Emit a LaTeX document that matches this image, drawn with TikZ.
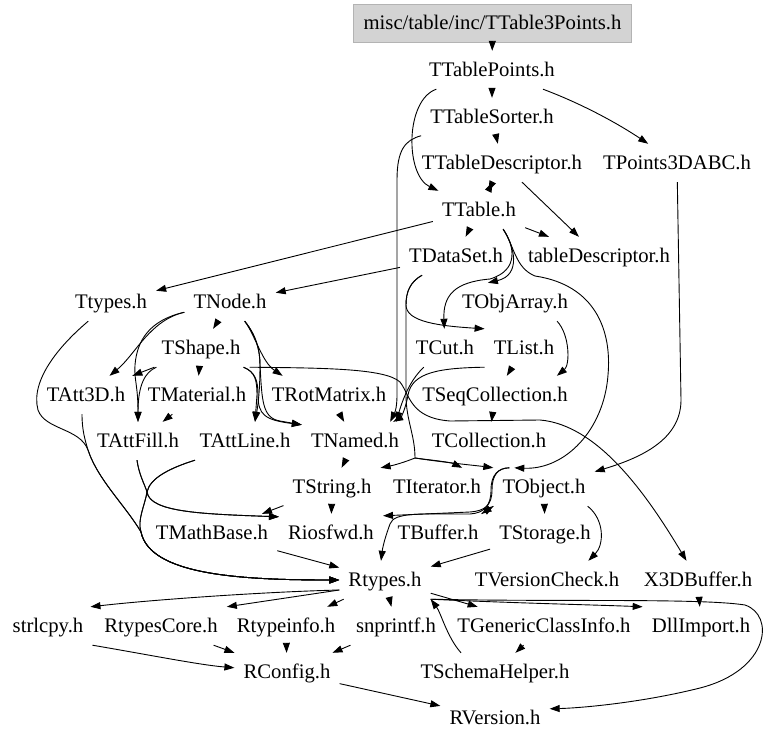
\documentclass[tikz,border=0pt]{standalone}
\usepackage{fontspec}
\setmainfont{Liberation Serif}
\usetikzlibrary{arrows.meta}
\definecolor{rootgray}{HTML}{D3D3D3}

\begin{document}
\begin{tikzpicture}[x=1pt,y=-1pt,
  every node/.style={inner xsep=9pt, inner ysep=0pt, minimum height=38pt,
    text height=16pt, text depth=2.6pt, font=\fontsize{20.7}{24}\selectfont},
  rootbox/.style={fill=rootgray, draw=rootgray!85!black, line width=0.6pt, inner xsep=10pt},
  dep/.style={-{Triangle[length=10pt,width=7pt]}, line width=0.9pt},
  trunk/.style={line width=0.9pt}]
\useasboundingbox (0,0) rectangle (768,746);

\node[rootbox] (root) at (492.5,23) {misc/table/inc/TTable3Points.h};
\node (tpoints) at (492,70) {TTablePoints.h};
\node (tsorter) at (492,117) {TTableSorter.h};
\node (tdesc) at (502,163) {TTableDescriptor.h};
\node (p3d) at (677,163) {TPoints3DABC.h};
\node (ttable) at (479,210) {TTable.h};
\node (dataset) at (456,256) {TDataSet.h};
\node (tabdesc) at (599,256) {tableDescriptor.h};
\node (ttypes) at (111,302) {Ttypes.h};
\node (tnode) at (230,302) {TNode.h};
\node (objarray) at (515,302) {TObjArray.h};
\node (tshape) at (201,348) {TShape.h};
\node (tcut) at (445,348) {TCut.h};
\node (tlist) at (524,348) {TList.h};
\node (att3d) at (86,395) {TAtt3D.h};
\node (material) at (197,395) {TMaterial.h};
\node (rotmatrix) at (329,395) {TRotMatrix.h};
\node (seqcoll) at (495,395) {TSeqCollection.h};
\node (attfill) at (138,441) {TAttFill.h};
\node (attline) at (245,441) {TAttLine.h};
\node (tnamed) at (355,441) {TNamed.h};
\node (collection) at (489,441) {TCollection.h};
\node (tstring) at (332,487) {TString.h};
\node (iterator) at (437,487) {TIterator.h};
\node (tobject) at (544,487) {TObject.h};
\node (mathbase) at (212,533) {TMathBase.h};
\node (riosfwd) at (331,533) {Riosfwd.h};
\node (tbuffer) at (438,533) {TBuffer.h};
\node (storage) at (545,533) {TStorage.h};
\node (rtypes) at (385,580) {Rtypes.h};
\node (vcheck) at (547,580) {TVersionCheck.h};
\node (x3d) at (698,580) {X3DBuffer.h};
\node (strlcpy) at (48,626) {strlcpy.h};
\node (rtcore) at (161,626) {RtypesCore.h};
\node (rtinfo) at (286,626) {Rtypeinfo.h};
\node (snprintf) at (396,626) {snprintf.h};
\node (genclass) at (544,626) {TGenericClassInfo.h};
\node (dllimport) at (701,626) {DllImport.h};
\node (schema) at (495,672) {TSchemaHelper.h};
\node (rconfig) at (287,672) {RConfig.h};
\node (rversion) at (495,718) {RVersion.h};

\coordinate (j2) at (415,458);

\draw[dep] (root) -- (tpoints);
\draw[dep] (tpoints) -- (tsorter);
\draw[dep] (tpoints) .. controls (585,105) and (620,125) .. (p3d);
\draw[dep] (tpoints) .. controls (405,100) and (405,175) .. (ttable);
\draw[dep] (tsorter) -- (tdesc);
\draw[dep] (tsorter) .. controls (405,140) and (397,150) .. (397,180) -- (397,395) .. controls (397,410) and (394,414) .. ([xshift=-18pt]tnamed.north east);
\draw[dep] (tdesc) -- (ttable);
\draw[dep] (ttable) -- (tdesc);
\draw[dep] (tdesc) -- (tabdesc);
\draw[dep] (ttable) -- (tabdesc);
\draw[dep] (ttable) -- (dataset);
\draw[dep] (ttable) -- (ttypes);
\draw[dep] ([xshift=-22pt]ttable.south east) .. controls (514,245) and (522,275) .. ([xshift=35pt]objarray.north west);
\draw[dep] ([xshift=-22pt]ttable.south east) .. controls (514,245) and (520,270) .. (490,279) .. controls (455,282) and (443,295) .. (tcut);
\draw[dep] ([xshift=-22pt]ttable.south east) .. controls (514,245) and (515,268) .. (535,276) .. controls (595,285) and (612,330) .. (608,375) .. controls (604,430) and (565,470) .. ([xshift=21pt]tobject.north west);
\draw[dep] (p3d) -- (681,400) .. controls (681,440) and (640,458) .. (tobject);

\draw[dep] (dataset) -- (tnode);
\draw[dep] (dataset) .. controls (410,282) and (406,292) .. (406,305) .. controls (406,322) and (440,326) .. (tlist.north west);
\draw[trunk] (dataset) .. controls (410,282) and (406,292) .. (406,305) -- (406,395) .. controls (406,420) and (415,435) .. (j2);
\draw[dep] (j2) .. controls (405,462) and (395,465) .. (tstring.north east);
\draw[dep] (j2) .. controls (430,460) and (450,462) .. ([xshift=-28pt]iterator.north east);
\draw[dep] (j2) .. controls (440,462) and (480,466) .. (tobject.north west);

\draw[dep] (tshape.south east) .. controls (320,368) and (385,368) .. (400,382) .. controls (410,395) and (410,418) .. (450,421) -- (540,420) .. controls (600,425) and (650,500) .. (x3d);
\draw[dep] (tcut) .. controls (412,378) and (404,395) .. ([xshift=-12pt]tnamed.north east);
\draw[dep] (tlist.south west) .. controls (440,368) and (412,372) .. (408,395) .. controls (405,412) and (400,418) .. ([xshift=-15pt]tnamed.north east);
\draw[dep] (tlist) -- (seqcoll);
\draw[dep] ([xshift=-20pt]objarray.south east) .. controls (570,335) and (570,365) .. ([xshift=-20pt]seqcoll.north east);
\draw[dep] (seqcoll) -- (collection);

\draw[dep] (tnode) -- (tshape);
\draw[dep] (tnode) .. controls (150,320) and (135,355) .. (att3d);
\draw[dep] (tnode) .. controls (150,320) and (137,340) .. (135,365) .. controls (134,380) and (138,385) .. (attfill);
\draw[dep] ([xshift=2pt]tshape.south west) -- ([xshift=-2pt]att3d.north east);
\draw[dep] ([xshift=4pt]tshape.south west) .. controls (145,372) and (138,385) .. (attfill);
\draw[dep] (tshape) -- (material);
\draw[dep] (material) -- (attfill);
\draw[dep] ([xshift=-31pt]tnode.south east) .. controls (255,335) and (262,362) .. ([xshift=20pt]rotmatrix.north west);
\draw[dep] ([xshift=-31pt]tnode.south east) .. controls (256,335) and (260,350) .. (260,365) .. controls (260,390) and (258,405) .. ([xshift=10pt]attline.north);
\draw[dep] ([xshift=-31pt]tnode.south east) .. controls (256,335) and (260,350) .. (260,365) .. controls (262,400) and (262,418) .. (280,421) -- ([yshift=-3pt]tnamed.north west);
\draw[dep] ([xshift=-6pt]tshape.south east) .. controls (255,372) and (258,380) .. (258,395) .. controls (258,415) and (265,420) .. ([yshift=-3pt]tnamed.north west);
\draw[dep] ([xshift=-6pt]tshape.south east) .. controls (255,372) and (257,380) .. (257,395) -- ([xshift=10pt]attline.north);
\draw[dep] (rotmatrix) -- (tnamed);

\draw[dep] (tnamed) -- (tstring);
\draw[dep] (tstring) -- (riosfwd);
\draw[dep] (tstring) -- (mathbase);
\draw[dep] (ttypes) .. controls (60,345) and (30,380) .. (38,410) .. controls (45,430) and (80,428) .. (88,450) .. controls (98,480) and (125,505) .. (141,532) .. controls (150,575) and (240,580) .. (rtypes);
\draw[dep] ([xshift=-4pt]att3d.south) .. controls (82,430) and (85,440) .. (88,450) .. controls (98,480) and (125,505) .. (141,532) .. controls (150,575) and (240,580) .. (rtypes);
\draw[dep] ([xshift=-1pt]attfill.south) .. controls (139,475) and (145,485) .. (147,492) .. controls (150,512) and (200,514) .. ([yshift=-3pt]riosfwd.north west);
\draw[dep] ([xshift=-50pt]attline.south) .. controls (170,468) and (150,478) .. (147,492) .. controls (150,512) and (200,514) .. ([yshift=-3pt]riosfwd.north west);
\draw[dep] ([xshift=-1pt]attfill.south) .. controls (139,475) and (145,485) .. (147,492) .. controls (145,505) and (137,520) .. (141,532) .. controls (150,575) and (240,580) .. (rtypes);
\draw[dep] ([xshift=-50pt]attline.south) .. controls (170,468) and (150,478) .. (147,492) .. controls (145,505) and (137,520) .. (141,532) .. controls (150,575) and (240,580) .. (rtypes);

\draw[dep] (tobject) -- (storage);
\draw[dep] ([xshift=-7pt]tobject.south east) .. controls (605,520) and (604,545) .. ([xshift=-40pt]vcheck.north east);
\draw[dep] ([xshift=16pt]tobject.north west) .. controls (498,468) and (492,475) .. (492,490) .. controls (492,505) and (485,511) .. (470,512) -- ([yshift=-2pt]riosfwd.north east);
\draw[dep] ([xshift=16pt]tobject.north west) .. controls (498,468) and (491,475) .. (491,490) .. controls (491,506) and (484,513) .. (470,514) .. controls (420,514) and (394,512) .. (390,524) .. controls (386,535) and (383,545) .. ([xshift=-4pt]rtypes.north);
\draw[dep] (tobject.south west) -- ([xshift=-6pt]tbuffer.north east);
\draw[dep] ([xshift=-6pt]tbuffer.north east) -- (tobject.south west);
\draw[dep] (storage) -- (rtypes);
\draw[dep] (mathbase) -- (rtypes);

\draw[dep] ([yshift=-10pt]rtypes.west) .. controls (260,592) and (150,600) .. ([xshift=-2pt]strlcpy.north east);
\draw[dep] ([yshift=-10pt]rtypes.west) -- (rtcore.north east);
\draw[dep] (rtypes) -- (rtinfo);
\draw[dep] (rtypes) -- (snprintf);
\draw[dep] (rtypes) -- (genclass);
\draw[dep] (rtypes.south east) .. controls (510,603) and (600,605) .. (dllimport.north west);
\draw[dep] (rtypes.south east) .. controls (560,602) and (700,598) .. (745,605) .. controls (775,615) and (770,670) .. (700,688) .. controls (640,703) and (580,708) .. ([yshift=-10pt]rversion.north east);
\draw[dep] (x3d) -- (dllimport);
\draw[dep] ([xshift=-34pt]schema.north) .. controls (447,637) and (441,613) .. (rtypes.south east);
\draw[dep] (genclass) -- (schema);
\draw[dep] (strlcpy.south east) .. controls (150,655) and (200,665) .. (rconfig);
\draw[dep] (rtcore) -- (rconfig);
\draw[dep] (rtinfo) -- (rconfig);
\draw[dep] (snprintf) -- (rconfig);
\draw[dep] (rconfig) -- (rversion);

\end{tikzpicture}
\end{document}
